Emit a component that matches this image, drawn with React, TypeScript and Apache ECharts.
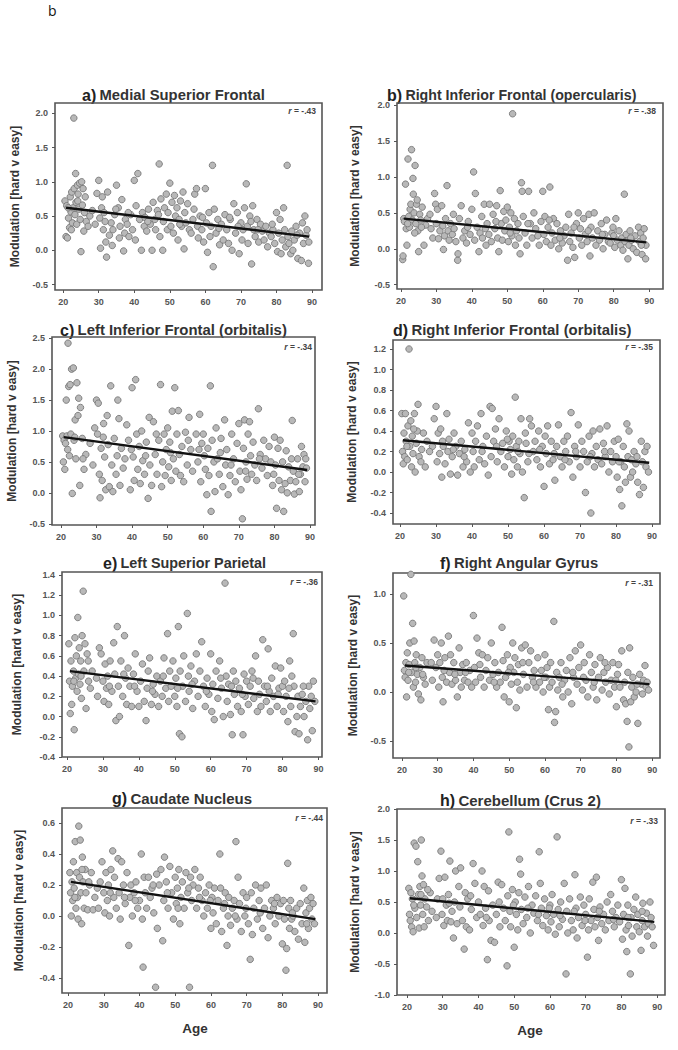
import React, { useEffect, useRef } from "react";
import * as echarts from "echarts";

// ---------- DATA ----------
const ptsA: number[][] = [
[20.5,0.72],[20.8,0.2],[21,0.65],[21.2,0.18],[21.5,0.47],[21.8,0.33],[22,0.78],[22.2,0.56],[22.4,0.85],[22.6,0.4],[22.8,0.62],[23,1.93],[23.1,0.9],[23.3,0.52],[23.5,1.12],[23.6,0.7],[23.8,0.38],[24,0.95],[24.2,0.82],[24.4,0.6],[24.6,0.98],[24.8,0.45],[25,-0.02],[25.2,1.0],[25.4,0.66],[25.6,0.9],[25.8,0.28],[26,0.55],[26.5,0.42],[27,0.35],[27.5,0.5],
[29,0.38],[29.5,0.83],[30,1.02],[30.3,0.47],[30.5,0.03],[30.8,0.62],[31,0.78],[31.3,0.3],[31.5,0.55],[32,0.12],[32.2,-0.1],[32.5,0.85],[33,0.22],[33.5,0.4],[33.8,0.07],[34,0.3],[34.5,0.52],[35,0.95],[35.5,0.62],[35.8,0.18],[36,0.35],[36.5,0.74],[37,-0.01],[37.3,0.25],[37.5,0.45],[38,0.38],[38.5,0.2],[39,0.52],[39.5,0.3],[40,1.02],[40.3,0.15],[40.5,0.65],
[41,1.12],[41.5,0.45],[42,0.0],[42.3,0.55],[42.8,0.35],[43,0.48],[43.5,0.28],[44,0.6],[44.5,0.38],[45,0.0],[45.3,0.7],[45.8,0.45],[46,0.3],[46.5,0.58],[47,1.26],[47.2,0.2],[47.5,0.75],[48,0.0],[48.2,0.42],[48.5,0.62],[49,0.82],[49.3,0.3],[49.5,0.55],[50,0.98],[50.3,0.35],[50.6,0.7],[51,0.25],[51.3,0.8],[51.6,0.5],[52,0.62],[52.3,0.15],[52.6,0.45],[53,0.72],[53.3,0.35],[53.7,0.85],[54,0.02],[54.2,0.55],[54.5,0.4],[55,0.68],[55.5,0.3],
[56,0.25],[56.5,0.45],[57,0.82],[57.5,0.9],[57.8,0.35],[58,0.18],[58.5,0.5],[59,0.3],[59.5,0.12],[60,0.9],[60.3,0.4],[60.6,-0.03],[61,0.55],[61.3,0.2],[61.6,0.35],[62,1.24],[62.2,-0.24],[62.5,0.6],[63,0.25],[63.5,0.45],[64,0.08],[64.5,0.38],[65,0.15],[65.5,0.52],[66,0.3],[66.5,0.1],[67,0.45],[67.5,0.0],[68,0.68],[68.5,0.25],[69,0.55],[69.5,-0.05],[70,0.4],[70.3,0.15],[70.6,0.3],
[71,0.62],[71.5,0.97],[71.8,0.35],[72,0.1],[72.5,0.5],[73,-0.2],[73.3,0.65],[73.6,0.3],[74,0.2],[74.5,0.45],[75,0.12],[75.5,0.38],[76,0.28],[76.5,0.15],[77,0.35],[77.5,0.05],[78,0.25],[78.5,0.2],[79,0.3],[79.5,0.1],[80,0.55],[80.3,-0.02],[80.6,0.25],[81,0.45],[81.3,-0.05],[81.6,0.15],[82,0.62],[82.3,0.3],[82.6,0.05],[83,1.24],[83.2,0.2],[83.5,0.1],[84,-0.05],[84.3,0.28],[84.6,0.0],[85,0.15],[85.5,0.35],[86,-0.12],[86.5,0.25],[87,-0.15],[87.3,0.4],[87.6,0.1],[88,0.5],[88.3,0.22],[88.6,0.3],[89,-0.19],[89.1,0.12],
[21.4,0.62],[22.3,0.3],[24.1,0.72],[26.2,0.78],[28.2,0.58],[31.8,0.42],[34.8,0.6],[38.3,0.55],[43.8,0.42],[46.8,0.52],[52.8,0.38],[56.8,0.6],[59.2,0.48],[63.8,0.32],[66.8,0.48],[69.2,0.35],[72.8,0.42],[74.8,0.3],[78.8,0.38],[85.8,0.22]
];
const ptsB: number[][] = [
[20.5,-0.15],[20.6,-0.1],[20.8,0.42],[21,0.38],[21.3,0.9],[21.5,0.28],[21.7,0.05],[22,1.25],[22.2,0.45],[22.4,0.3],[22.6,0.55],[22.8,0.62],[23,1.38],[23.2,0.4],[23.4,0.98],[23.5,0.76],[23.7,0.5],[24,1.16],[24.2,0.35],[24.4,0.62],[24.6,0.68],[24.8,0.25],[25,-0.04],[25.3,0.48],[25.6,0.4],[26,0.58],[26.5,0.05],[27,0.33],[27.5,0.42],
[28.5,0.28],[29,0.15],[29.5,0.77],[29.8,0.62],[30,0.35],[30.3,0.55],[30.6,0.14],[31,0.25],[31.5,0.6],[32,-0.01],[32.3,0.18],[32.6,0.42],[33,0.88],[33.3,0.25],[33.6,0.12],[34,0.35],[34.5,0.2],[35,0.28],[35.5,0.1],[36,-0.16],[36.1,-0.07],[36.5,0.42],[37,0.6],[37.5,0.15],[38,0.25],[38.5,0.08],[39,0.38],[39.5,0.2],
[40,0.55],[40.5,1.07],[40.8,0.12],[41,0.77],[41.5,0.3],[42,-0.04],[42.3,0.22],[42.8,0.45],[43,0.15],[43.5,0.62],[44,0.05],[44.3,0.35],[44.8,0.2],[45,0.62],[45.5,0.1],[46,0.48],[46.5,0.28],[47,0.6],[47.3,0.15],[47.6,-0.04],[48,0.81],[48.3,0.35],[48.6,0.12],[49,0.52],[49.3,0.25],[49.6,0.4],[50,0.58],[50.3,0.1],[50.6,0.3],[51,0.5],[51.3,0.18],[51.5,1.88],[52,0.42],[52.3,0.05],[52.6,0.25],[53,0.35],[53.3,0.15],[53.6,-0.07],[54,0.92],[54.2,0.8],[54.5,0.45],[55,0.22],[55.5,0.05],[56,0.8],[56.5,0.35],[57,0.15],[57.5,0.5],[58,0.28],
[59,0.05],[59.5,0.38],[60,0.8],[60.3,0.2],[60.6,0.45],[61,0.1],[61.5,0.3],[62,0.86],[62.3,0.05],[62.6,0.22],[63,0.42],[63.5,0.12],[64,0.35],[64.5,0.0],[65,0.25],[65.5,0.08],[66,0.18],[66.5,0.3],[67,-0.16],[67.3,0.48],[67.6,0.1],[68,0.22],[68.5,0.02],[69,-0.12],[69.5,0.35],[70,0.5],[70.3,0.15],[70.6,0.28],
[71,0.05],[71.5,0.42],[72,0.2],[72.5,0.1],[73,0.48],[73.3,-0.1],[73.6,0.3],[74,0.15],[74.5,0.5],[75,0.05],[75.5,0.25],[76,0.12],[76.5,0.35],[77,0.0],[77.5,0.2],[78,0.4],[78.5,0.1],[79,0.08],[79.5,0.22],[80,0.18],[80.3,0.02],[80.6,0.42],[81,0.12],[81.5,0.25],[82,0.05],[82.3,0.15],[82.6,-0.02],[83,0.76],[83.2,0.1],[83.5,0.2],[84,-0.14],[84.3,0.05],[84.6,0.25],[85,0.12],[85.5,0.0],[86,0.18],[86.5,-0.05],[87,0.3],[87.3,0.1],[87.6,0.22],[88,-0.08],[88.3,0.15],[88.6,0.28],[89,-0.14],[89.1,0.05],
[21.9,0.35],[23.9,0.22],[25.8,0.3],[28.2,0.48],[31.8,0.32],[34.8,0.48],[38.8,0.3],[43.8,0.28],[46.8,0.38],[50.8,0.22],[55.8,0.35],[58.6,0.18],[61.8,0.4],[64.8,0.15],[68.8,0.3],[72.8,0.25],[76.8,0.2],[79.8,0.3],[84.8,0.15],[87.8,0.05]
];
const ptsC: number[][] = [
[20.5,0.92],[20.7,0.5],[20.9,0.85],[21.1,0.38],[21.3,0.8],[21.5,1.5],[21.7,0.92],[22,2.42],[22.2,1.72],[22.4,0.6],[22.6,1.75],[22.8,0.95],[23,2.0],[23.2,-0.01],[23.5,2.02],[23.7,0.85],[24,1.18],[24.2,0.55],[24.5,1.78],[24.8,1.25],[25,1.53],[25.3,0.12],[25.5,1.38],[26,0.88],[26.5,0.38],[27,0.62],
[29,0.45],[29.5,1.05],[30,1.5],[30.3,0.95],[30.5,1.45],[30.8,0.3],[31,-0.08],[31.3,0.72],[31.6,0.2],[32,1.12],[32.3,0.58],[32.6,0.05],[33,1.25],[33.3,0.78],[33.6,0.1],[34,1.73],[34.3,0.45],[34.6,0.02],[35,0.88],[35.5,0.3],[36,1.5],[36.3,1.2],[36.6,0.12],[37,0.72],[37.5,0.4],[38,0.55],[38.5,1.1],[39,0.85],[39.5,0.05],
[40,1.7],[40.3,0.58],[40.6,0.2],[41,1.83],[41.3,0.95],[41.6,0.38],[42,0.75],[42.3,0.15],[42.7,1.0],[43,0.52],[43.5,0.3],[44,0.82],[44.5,-0.09],[44.8,1.22],[45,0.45],[45.5,0.12],[46,1.15],[46.5,0.62],[47,0.3],[47.5,0.85],[48,1.75],[48.3,0.1],[48.6,0.5],[49,0.95],[49.3,0.28],[49.6,0.7],[50,1.05],[50.3,0.42],[50.6,0.82],[51,0.2],[51.3,1.32],[51.6,0.55],[52,1.7],[52.3,0.35],[52.6,0.95],[53,1.33],[53.3,0.62],[53.6,0.28],[54,0.75],[54.5,0.18],[55,0.98],[55.5,0.45],[56,1.22],[56.5,0.7],[57,0.35],
[58,0.95],[58.5,0.5],[59,1.27],[59.3,0.18],[59.6,0.8],[60,0.95],[60.3,0.6],[60.6,0.38],[61,-0.03],[61.3,0.72],[61.6,0.28],[62,1.73],[62.2,-0.3],[62.5,0.85],[63,0.5],[63.3,0.02],[63.6,1.05],[64,0.55],[64.5,0.3],[65,0.88],[65.5,0.1],[66,1.18],[66.3,0.45],[66.6,0.7],[67,-0.03],[67.5,0.28],[68,0.95],[68.5,0.55],[69,0.18],[69.5,0.8],[70,1.12],[70.3,0.35],[70.6,0.05],
[71,-0.42],[71.3,0.72],[71.6,1.18],[72,0.5],[72.3,0.22],[72.6,0.95],[73,1.15],[73.3,0.6],[73.6,0.3],[74,0.82],[74.5,0.45],[75,0.2],[75.5,1.36],[76,0.62],[76.5,0.4],[77,0.85],[77.5,0.55],[78,0.28],[78.5,0.75],[79,0.5],[79.5,0.12],[80,0.9],[80.3,0.45],[80.6,-0.25],[81,0.72],[81.3,0.2],[81.6,0.85],[82,0.05],[82.3,0.5],[82.6,-0.3],[83,0.15],[83.3,0.68],[83.6,0.0],[84,0.42],[84.5,0.2],[85,1.17],[85.3,0.35],[85.6,-0.02],[86,0.18],[86.5,0.55],[87,0.02],[87.3,0.3],[87.6,0.75],[88,0.42],[88.3,0.62],[88.6,0.18],[89,0.4],
[21.9,0.7],[23.9,0.9],[26.2,0.55],[28.2,0.8],[31.9,0.9],[35.8,0.6],[39.8,0.7],[43.8,0.6],[46.8,0.95],[50.8,0.65],[55.8,0.85],[58.8,0.7],[64.8,0.65],[67.8,0.45],[71.9,0.35],[75.8,0.55],[79.8,0.3],[84.8,0.55],[86.8,0.3],[88.8,0.55]
];
const ptsD: number[][] = [
[20.5,0.57],[20.7,0.2],[20.9,0.08],[21.1,0.38],[21.3,0.15],[21.5,0.57],[21.7,0.3],[22,0.12],[22.2,0.45],[22.5,1.2],[22.7,0.25],[23,0.5],[23.2,0.05],[23.4,0.35],[23.6,0.18],[24,0.57],[24.2,0.0],[24.5,0.28],[24.8,0.4],[25,0.66],[25.3,0.15],[26,0.22],[26.5,0.38],[27,0.05],[27.5,0.3],
[29,0.25],[29.5,0.52],[30,0.64],[30.3,0.1],[30.6,0.38],[31,0.18],[31.3,0.42],[31.6,-0.05],[32,0.25],[32.5,0.08],[33,0.57],[33.3,0.2],[33.6,0.32],[34,-0.02],[34.5,0.15],[35,0.38],[35.5,0.25],[36,-0.03],[36.5,0.18],[37,0.3],[37.5,0.05],[38,0.22],[38.5,0.1],[39,0.48],[39.5,0.0],
[40,0.38],[40.3,0.2],[40.6,0.05],[41,0.3],[41.5,0.45],[42,0.12],[42.5,0.57],[43,0.25],[43.5,0.08],[44,0.35],[44.5,-0.03],[45,0.64],[45.3,0.15],[45.6,0.62],[46,0.3],[46.5,0.42],[47,0.1],[47.5,0.52],[48,0.2],[48.5,0.28],[49,0.05],[49.5,0.4],[50,0.15],[50.3,0.3],[50.6,0.22],[51,-0.02],[51.3,0.35],[51.6,0.12],[52,0.73],[52.3,0.25],[52.6,0.05],[53,0.3],[53.3,0.18],[53.6,0.52],[54,0.0],[54.5,-0.25],[54.8,0.38],[55,0.28],[55.5,0.1],[56,0.52],[56.5,0.45],[57,0.2],[57.5,0.3],
[58,0.12],[58.5,0.4],[59,0.05],[59.5,0.25],[60,-0.14],[60.3,0.35],[60.6,0.18],[61,0.45],[61.5,0.08],[62,0.3],[62.5,0.12],[63,-0.08],[63.5,0.25],[64,0.46],[64.5,0.15],[65,0.05],[65.5,0.3],[66,0.2],[66.5,0.35],[67,0.1],[67.5,0.58],[68,-0.05],[68.5,0.25],[69,0.15],[69.5,0.46],[70,0.05],[70.5,0.3],
[71,0.2],[71.5,-0.2],[72,0.1],[72.5,0.35],[73,-0.4],[73.3,0.18],[73.6,0.4],[74,0.05],[74.5,0.25],[75,0.12],[75.5,0.42],[76,0.08],[76.5,0.28],[77,0.15],[77.5,0.45],[78,0.0],[78.5,0.2],[79,0.1],[79.5,0.3],[80,0.15],[80.3,-0.05],[80.6,0.32],[81,-0.17],[81.3,0.1],[81.6,-0.33],[82,0.25],[82.3,0.05],[82.6,-0.1],[83,0.47],[83.3,0.15],[83.6,0.4],[84,-0.05],[84.3,0.12],[84.6,0.0],[85,0.2],[85.5,0.08],[86,-0.1],[86.5,-0.22],[87,0.3],[87.3,0.1],[87.6,-0.15],[88,0.2],[88.3,0.05],[88.6,0.25],[89,0.0],
[21.9,0.25],[23.8,0.42],[25.8,0.1],[28.2,0.2],[31.8,0.3],[34.8,0.22],[37.8,0.15],[42.8,0.2],[46.8,0.25],[49.8,0.32],[52.8,0.2],[55.8,0.18],[58.8,0.22],[62.8,0.18],[65.8,0.12],[68.8,0.2],[72.8,0.15],[76.8,0.2],[80.8,0.1],[85.8,0.15]
];
const ptsE: number[][] = [
[20.5,0.72],[20.7,0.35],[20.9,0.03],[21.1,0.55],[21.3,0.12],[21.5,0.3],[21.8,0.45],[22,-0.13],[22.2,0.78],[22.4,0.38],[22.6,0.6],[22.8,0.25],[23,0.98],[23.2,0.42],[23.4,0.68],[23.6,0.32],[23.8,0.55],[24,0.18],[24.2,0.8],[24.5,1.24],[24.7,0.45],[25,0.72],[25.3,0.08],[25.6,0.62],[26,0.35],[26.5,0.28],[27,0.45],
[28.5,0.2],[29,0.68],[29.5,0.62],[30,0.35],[30.3,0.15],[30.6,0.52],[31,0.28],[31.3,0.4],[31.6,0.12],[32,0.55],[32.5,0.25],[33,0.73],[33.3,0.42],[33.6,-0.04],[34,0.89],[34.3,0.3],[34.6,0.0],[35,0.55],[35.5,0.2],[36,0.8],[36.3,0.38],[36.6,0.12],[37,0.48],[37.5,0.3],[38,0.1],[38.5,0.42],[39,0.62],[39.5,0.25],
[40,0.1],[40.5,0.35],[41,0.52],[41.5,0.15],[42,-0.04],[42.3,0.28],[42.6,0.45],[43,0.58],[43.5,0.12],[44,0.32],[44.5,0.22],[45,0.4],[45.5,0.1],[46,0.35],[46.5,0.2],[47,0.58],[47.5,0.28],[48,0.82],[48.3,0.15],[48.6,0.45],[49,0.3],[49.5,0.55],[50,0.2],[50.3,0.38],[50.6,0.1],[51,0.89],[51.3,-0.17],[51.5,0.45],[52,-0.2],[52.2,0.3],[52.5,0.6],[53,0.15],[53.5,1.02],[53.8,0.4],[54,0.25],[54.5,0.5],[55,0.08],[55.5,0.35],[56,0.62],[56.5,0.2],[57,0.45],[57.5,0.74],
[58,0.3],[58.5,0.1],[59,0.38],[59.5,0.22],[60,0.62],[60.3,0.05],[60.6,0.32],[61,-0.03],[61.5,0.45],[62,0.18],[62.5,0.55],[63,0.28],[63.5,0.0],[64,1.32],[64.3,0.4],[64.6,0.15],[65,0.32],[65.5,0.02],[66,-0.18],[66.3,0.45],[66.6,0.22],[67,0.35],[67.5,0.1],[68,0.28],[68.5,0.05],[69,-0.18],[69.3,0.42],[69.6,0.2],[70,0.35],[70.5,0.12],
[71,0.3],[71.5,0.45],[72,0.18],[72.5,0.6],[73,0.05],[73.3,0.35],[73.6,0.22],[74,0.1],[74.5,0.76],[75,0.3],[75.5,0.15],[76,0.67],[76.3,0.25],[76.6,0.05],[77,0.38],[77.5,0.2],[78,0.5],[78.5,0.1],[79,0.28],[79.5,0.48],[80,0.3],[80.3,0.05],[80.6,0.35],[81,0.2],[81.5,-0.05],[82,0.55],[82.3,0.1],[82.6,0.4],[83,0.82],[83.2,0.3],[83.5,-0.15],[84,0.0],[84.3,0.2],[84.6,-0.17],[85,0.1],[85.5,0.22],[86,0.0],[86.5,0.15],[87,-0.23],[87.3,0.3],[87.6,0.08],[88,0.2],[88.3,-0.14],[88.6,0.35],[89,0.15],
[21.9,0.35],[23.9,0.4],[25.9,0.55],[28.2,0.38],[31.8,0.3],[35.8,0.42],[38.8,0.3],[43.8,0.25],[46.8,0.4],[50.8,0.28],[54.8,0.32],[58.8,0.25],[62.8,0.38],[65.8,0.3],[68.8,0.22],[71.8,0.38],[75.8,0.3],[78.8,0.22],[81.8,0.28],[85.8,0.3]
];
const ptsF: number[][] = [
[20.5,0.98],[20.7,0.22],[20.9,0.15],[21.1,0.3],[21.3,-0.05],[21.5,0.4],[21.7,0.12],[22,0.28],[22.2,0.5],[22.5,1.2],[22.7,0.2],[23,0.7],[23.2,0.05],[23.4,0.52],[23.6,0.3],[23.8,0.1],[24,0.38],[24.3,0.18],[24.6,-0.02],[25,0.25],[25.3,-0.08],[25.6,0.35],[26,0.15],[26.5,0.08],[27,0.3],
[28.5,0.12],[29,0.53],[29.5,0.25],[30,0.38],[30.3,0.05],[30.6,0.3],[31,0.5],[31.3,0.15],[31.5,-0.1],[32,0.35],[32.5,0.1],[33,0.57],[33.3,0.2],[33.6,0.38],[34,0.08],[34.5,0.3],[35,0.12],[35.5,-0.05],[36,0.45],[36.3,0.2],[36.6,0.05],[37,0.28],[37.5,0.12],[38,0.3],[38.5,0.1],[39,0.22],[39.5,0.05],
[40,0.78],[40.3,0.25],[40.6,0.1],[41,0.55],[41.5,0.4],[42,0.15],[42.5,0.38],[43,0.05],[43.5,0.22],[44,0.35],[44.5,0.12],[45,0.5],[45.5,0.18],[46,0.3],[46.5,0.05],[47,0.2],[47.5,0.1],[48,0.66],[48.3,0.32],[48.6,-0.05],[49,0.15],[49.5,0.38],[50,-0.1],[50.3,0.25],[50.6,0.08],[51,0.5],[51.3,0.2],[51.6,0.35],[52,-0.16],[52.3,0.1],[52.6,0.28],[53,0.02],[53.5,0.45],[54,0.18],[54.5,0.48],[55,0.05],[55.5,0.3],[56,0.42],[56.5,0.15],[57,0.22],[57.5,0.05],
[58,0.35],[58.5,0.1],[59,0.22],[59.5,0.0],[60,0.38],[60.3,0.15],[60.6,0.25],[61,-0.18],[61.3,0.05],[61.6,0.3],[62,0.1],[62.5,0.72],[62.7,-0.31],[63,-0.2],[63.3,0.2],[63.6,0.02],[64,0.15],[64.5,0.3],[65,-0.05],[65.5,0.12],[66,0.22],[66.5,0.0],[67,0.35],[67.5,-0.12],[68,0.15],[68.5,0.42],[69,0.08],[69.5,0.25],[70,0.48],[70.5,0.02],
[71,0.3],[71.5,0.12],[72,-0.05],[72.5,0.38],[73,0.2],[73.5,0.05],[74,0.28],[74.5,-0.08],[75,0.15],[75.5,0.35],[76,0.02],[76.5,0.2],[77,0.1],[77.5,0.25],[78,-0.02],[78.5,0.12],[79,0.3],[79.5,0.05],[80,-0.15],[80.3,0.18],[80.6,0.28],[81,0.05],[81.5,0.42],[82,-0.08],[82.3,0.1],[82.6,-0.12],[83,-0.3],[83.2,0.2],[83.5,-0.56],[83.7,0.45],[84,-0.1],[84.3,0.05],[84.6,0.15],[85,-0.05],[85.5,0.0],[86,-0.32],[86.5,0.18],[87,0.08],[87.3,-0.02],[87.6,0.12],[88,0.27],[88.3,0.05],[88.6,0.1],[89,0.02],
[21.9,0.2],[23.9,0.25],[25.8,0.18],[28.2,0.3],[31.8,0.22],[34.8,0.18],[37.8,0.2],[41.8,0.28],[45.8,0.1],[49.8,0.2],[53.8,0.3],[56.8,0.1],[59.8,0.15],[64.8,0.08],[67.8,0.2],[70.8,0.15],[73.8,0.1],[76.8,0.3],[79.8,0.12],[85.8,0.08]
];
const ptsG: number[][] = [
[20.5,0.28],[20.7,0.15],[20.9,0.0],[21.1,0.22],[21.3,0.1],[21.5,0.35],[21.7,0.18],[22,0.48],[22.2,0.05],[22.4,0.28],[22.6,0.12],[22.8,-0.02],[23,0.58],[23.2,0.25],[23.4,0.49],[23.6,0.15],[23.8,-0.05],[24,0.38],[24.2,0.22],[24.5,0.05],[24.8,0.3],[25,0.15],[25.5,0.04],[26,0.2],[26.5,0.28],[27,0.04],[27.5,0.12],
[28.5,0.05],[29,0.22],[29.5,0.35],[30,0.15],[30.3,0.02],[30.6,0.28],[31,0.1],[31.3,0.2],[31.6,0.0],[32,0.3],[32.5,0.42],[32.8,0.12],[33,0.25],[33.5,0.05],[34,0.37],[34.3,0.15],[34.6,-0.02],[35,0.35],[35.5,0.2],[36,0.08],[36.5,0.28],[37,-0.19],[37.3,0.12],[37.6,0.2],[38,0.0],[38.5,0.15],[39,0.22],[39.5,0.05],
[40,0.1],[40.5,0.4],[40.8,-0.02],[41,-0.33],[41.3,0.25],[41.6,0.15],[42,0.05],[42.5,0.25],[43,0.12],[43.5,0.18],[44,0.02],[44.5,-0.46],[44.8,0.27],[45,-0.08],[45.5,0.2],[46,0.3],[46.5,-0.16],[46.8,0.1],[47,0.38],[47.5,0.22],[48,0.05],[48.5,0.32],[49,0.15],[49.5,-0.02],[50,0.25],[50.3,0.08],[50.6,0.18],[51,0.3],[51.3,-0.05],[51.6,0.12],[52,0.22],[52.5,0.05],[53,0.28],[53.5,0.15],[54,-0.46],[54.3,0.25],[54.6,0.1],[55,0.2],[55.5,0.3],[56,0.05],[56.5,0.18],[57,0.25],[57.5,0.1],
[58,0.0],[58.5,0.15],[59,0.05],[59.5,0.2],[60,-0.08],[60.3,0.12],[60.6,0.02],[61,0.18],[61.5,-0.05],[62,0.1],[62.5,0.4],[62.7,0.18],[63,-0.1],[63.5,0.05],[64,0.15],[64.5,-0.19],[64.8,0.0],[65,0.12],[65.5,-0.06],[66,0.05],[66.5,0.1],[67,0.48],[67.3,-0.02],[67.6,0.25],[68,0.08],[68.5,-0.1],[69,0.15],[69.5,0.0],[70,0.12],[70.5,-0.05],
[71,-0.28],[71.3,0.15],[71.6,-0.12],[72,0.05],[72.5,0.2],[73,-0.02],[73.5,0.1],[74,0.18],[74.5,-0.08],[75,0.05],[75.5,0.2],[76,-0.14],[76.5,0.0],[77,0.1],[77.5,0.05],[78,-0.05],[78.5,0.12],[79,0.0],[79.5,0.08],[80,-0.18],[80.3,0.1],[80.6,-0.02],[81,-0.35],[81.2,-0.21],[81.5,0.34],[81.8,0.05],[82,-0.08],[82.3,0.1],[82.6,-0.02],[83,0.0],[83.5,-0.1],[84,0.05],[84.5,-0.15],[85,0.08],[85.5,-0.05],[86,0.18],[86.3,-0.17],[86.6,0.02],[87,0.1],[87.3,-0.08],[87.6,0.05],[88,0.12],[88.3,-0.02],[88.6,0.08],[89,-0.05],
[21.9,0.12],[23.9,0.3],[25.8,0.22],[28.2,0.18],[31.8,0.15],[35.8,0.12],[38.8,0.1],[43.8,0.2],[47.8,0.15],[50.8,0.05],[53.8,0.18],[56.8,0.12],[59.8,0.1],[63.8,0.08],[66.8,0.0],[69.8,0.05],[73.8,0.02],[77.8,0.08],[82.8,0.02],[86.8,-0.05]
];
const ptsH: number[][] = [
[20.5,0.72],[20.7,0.3],[20.9,0.2],[21.1,0.65],[21.3,0.1],[21.5,0.55],[21.7,0.02],[22,1.45],[22.2,0.4],[22.5,1.4],[22.7,0.25],[23,1.15],[23.2,0.62],[23.4,0.08],[23.6,0.75],[23.8,0.45],[24,1.5],[24.2,0.92],[24.4,0.3],[24.6,0.78],[24.8,0.1],[25,0.55],[25.5,0.42],[26,0.2],[26.5,0.65],[27,0.35],
[28.5,0.55],[29,0.88],[29.5,1.32],[29.8,0.3],[30,0.55],[30.3,0.12],[30.6,0.9],[31,0.45],[31.3,0.2],[31.6,0.62],[32,1.16],[32.3,0.18],[32.6,0.35],[33,-0.08],[33.3,0.5],[33.6,1.0],[34,0.15],[34.5,0.75],[35,1.05],[35.5,0.2],[36,-0.26],[36.3,0.65],[36.6,0.1],[37,0.55],[37.5,0.05],[38,0.38],[38.5,1.12],[39,0.8],[39.5,0.25],
[40,0.5],[40.5,0.3],[41,1.0],[41.3,0.12],[41.6,0.75],[42,0.4],[42.5,-0.43],[42.8,0.68],[43,0.2],[43.5,-0.12],[44,0.45],[44.5,-0.15],[45,0.3],[45.5,0.82],[46,0.1],[46.5,0.78],[47,0.4],[47.5,0.2],[48,-0.53],[48.2,0.6],[48.5,1.63],[48.8,0.35],[49,0.1],[49.5,0.7],[50,-0.23],[50.3,0.5],[50.6,0.3],[51,0.05],[51.3,0.65],[51.5,1.19],[51.8,0.95],[52,0.38],[52.5,0.15],[53,0.58],[53.5,0.25],[54,0.75],[54.5,0.0],[55,0.45],[55.5,0.32],[56,0.6],[56.5,0.2],[57,1.31],[57.3,0.8],[57.6,0.4],
[58,0.12],[58.5,0.55],[59,0.28],[59.5,0.05],[60,0.45],[60.3,0.18],[60.6,0.62],[61,0.3],[61.5,-0.02],[62,1.55],[62.3,0.38],[62.6,0.1],[63,0.5],[63.5,0.22],[64,0.8],[64.5,-0.66],[64.7,0.35],[65,0.0],[65.5,0.55],[66,0.2],[66.5,0.05],[67,0.94],[67.3,0.4],[67.6,-0.08],[68,0.25],[68.5,0.58],[69,0.12],[69.5,0.45],[70,0.3],[70.5,-0.39],[70.8,0.05],
[71,0.55],[71.5,0.2],[72,0.82],[72.3,0.38],[72.6,0.1],[73,0.9],[73.3,0.25],[73.6,-0.12],[74,0.42],[74.5,0.15],[75,0.3],[75.5,0.05],[76,0.5],[76.5,0.2],[77,0.62],[77.5,0.35],[78,0.1],[78.5,0.25],[79,0.45],[79.5,0.18],[80,0.86],[80.3,-0.1],[80.6,0.3],[81,0.72],[81.3,0.05],[81.5,-0.3],[81.8,0.45],[82,0.12],[82.5,-0.66],[82.7,0.25],[83,-0.05],[83.5,0.38],[84,0.58],[84.3,0.1],[84.6,0.3],[85,0.02],[85.5,-0.28],[85.8,0.2],[86,0.48],[86.5,0.1],[87,0.32],[87.3,-0.05],[87.6,0.15],[88,0.5],[88.3,0.25],[88.6,0.1],[89,-0.2],
[21.9,0.45],[23.9,0.62],[25.8,0.7],[28.2,0.25],[31.8,0.48],[34.8,0.42],[37.8,0.6],[42.2,0.25],[45.8,0.5],[49.8,0.45],[53.8,0.4],[56.8,0.3],[59.8,0.4],[62.8,0.28],[66.8,0.35],[69.8,0.2],[73.8,0.35],[77.8,0.22],[81.8,0.25],[85.8,0.35]
];

// regression line end points
const fitA = [[20.8, 0.62], [89.2, 0.2]];
const fitB = [[20.8, 0.42], [89.2, 0.09]];
const fitC = [[20.8, 0.9], [89.2, 0.37]];
const fitD = [[20.8, 0.31], [89.2, 0.09]];
const fitE = [[20.8, 0.45], [89.2, 0.15]];
const fitF = [[20.8, 0.27], [89.2, 0.08]];
const fitG = [[20.8, 0.22], [89.2, -0.02]];
const fitH = [[20.8, 0.56], [89.2, 0.18]];

const panelLetters = ["a)", "b)", "c)", "d)", "e)", "f)", "g)", "h)"];
const panelNames = [
  "Medial Superior Frontal",
  "Right Inferior Frontal (opercularis)",
  "Left Inferior Frontal (orbitalis)",
  "Right Inferior Frontal (orbitalis)",
  "Left Superior Parietal",
  "Right Angular Gyrus",
  "Caudate Nucleus",
  "Cerebellum (Crus 2)",
];
const rValues = ["-.43", "-.38", "-.34", "-.35", "-.36", "-.31", "-.44", "-.33"];
const xTicks = [20, 30, 40, 50, 60, 70, 80, 90];
const yTicksA = [-0.5, 0, 0.5, 1, 1.5, 2];
const yTicksB = [-0.5, 0, 0.5, 1, 1.5, 2];
const yTicksC = [-0.5, 0, 0.5, 1, 1.5, 2, 2.5];
const yTicksD = [-0.4, -0.2, 0, 0.2, 0.4, 0.6, 0.8, 1.0, 1.2];
const yTicksE = [-0.4, -0.2, 0, 0.2, 0.4, 0.6, 0.8, 1.0, 1.2, 1.4];
const yTicksF = [-0.5, 0, 0.5, 1.0];
const yTicksG = [-0.4, -0.2, 0, 0.2, 0.4, 0.6];
const yTicksH = [-1, -0.5, 0, 0.5, 1, 1.5, 2];
const yAxisTitle = "Modulation [hard v easy]";
const xAxisTitle = "Age";
const figureLabel = "b";

const allPts = [ptsA, ptsB, ptsC, ptsD, ptsE, ptsF, ptsG, ptsH];
const allFits = [fitA, fitB, fitC, fitD, fitE, fitF, fitG, fitH];
const allYTicks = [yTicksA, yTicksB, yTicksC, yTicksD, yTicksE, yTicksF, yTicksG, yTicksH];

// ---------- LAYOUT (pixels / axis extents) ----------
const layout = [
  { L: 55, T: 103, R: 322, B: 290, xMin: 17.7, xMax: 92.8, yMin: -0.58, yMax: 2.15, tx: 82, ty: 95, rx: 316, ry: 111, nx: 15 },
  { L: 397, T: 103, R: 663, B: 289, xMin: 18.9, xMax: 93.9, yMin: -0.56, yMax: 2.03, tx: 387, ty: 95, rx: 656, ry: 111, nx: 355 },
  { L: 52, T: 337, R: 315, B: 525, xMin: 17.5, xMax: 91.4, yMin: -0.52, yMax: 2.52, tx: 60, ty: 330, rx: 312, ry: 347, nx: 12 },
  { L: 393, T: 340, R: 660, B: 524, xMin: 18.05, xMax: 92.2, yMin: -0.507, yMax: 1.288, tx: 393, ty: 330, rx: 653, ry: 347, nx: 352 },
  { L: 62, T: 572, R: 322, B: 757, xMin: 18.6, xMax: 91.0, yMin: -0.4, yMax: 1.43, tx: 103, ty: 563, rx: 318, ry: 582, nx: 17 },
  { L: 393, T: 573, R: 660, B: 758, xMin: 17.5, xMax: 92.2, yMin: -0.673, yMax: 1.214, tx: 440, ty: 563, rx: 653, ry: 583, nx: 353 },
  { L: 62, T: 808, R: 327, B: 993, xMin: 18.3, xMax: 92.5, yMin: -0.497, yMax: 0.697, tx: 112, ty: 798, rx: 323, ry: 818, nx: 19 },
  { L: 397, T: 809, R: 665, B: 995, xMin: 17.2, xMax: 92.2, yMin: -1.0, yMax: 2.0, tx: 440, ty: 800, rx: 658, ry: 821, nx: 355 },
];
const titleSizes = [[16, 14.8], [16, 14.2], [16, 14.9], [16, 14.9], [16, 14.4], [16, 14.8], [16, 15], [16, 15]];

const FONT = "'Liberation Sans', Arial, Helvetica, sans-serif";

function buildOption() {
  const grid: any[] = [];
  const xAxis: any[] = [];
  const yAxis: any[] = [];
  const series: any[] = [];
  const graphic: any[] = [];

  layout.forEach((p, i) => {
    grid.push({ left: p.L, top: p.T, width: p.R - p.L, height: p.B - p.T, show: false });
    xAxis.push({
      type: "value", gridIndex: i, min: p.xMin, max: p.xMax,
      axisLine: { show: false, onZero: false },
      splitLine: { show: false },
      axisTick: { show: true, length: 3, inside: false, customValues: xTicks, lineStyle: { color: "#555", width: 1 } },
      axisLabel: { customValues: xTicks, margin: 7, color: "#555", fontSize: 9, fontWeight: "bold", fontFamily: FONT, formatter: (v: number) => String(Math.round(v)) },
    });
    yAxis.push({
      type: "value", gridIndex: i, min: p.yMin, max: p.yMax,
      axisLine: { show: false, onZero: false },
      splitLine: { show: false },
      axisTick: { show: true, length: 3, inside: false, customValues: allYTicks[i], lineStyle: { color: "#555", width: 1 } },
      axisLabel: { customValues: allYTicks[i], margin: 7, color: "#555", fontSize: 9, fontWeight: "bold", fontFamily: FONT, formatter: (v: number) => v.toFixed(1) },
    });
    series.push({
      type: "scatter", xAxisIndex: i, yAxisIndex: i, data: allPts[i], clip: false,
      symbol: "circle", symbolSize: 6.5,
      itemStyle: { color: "#b8b8b8", borderColor: "#787878", borderWidth: 0.9, opacity: 1 },
      z: 2,
    });
    series.push({
      type: "line", xAxisIndex: i, yAxisIndex: i, data: allFits[i], symbol: "none",
      lineStyle: { color: "#111", width: 2.4 }, z: 3, silent: true,
    });
    graphic.push({
      type: "rect", silent: true, z: 1,
      shape: { x: p.L, y: p.T, width: p.R - p.L, height: p.B - p.T },
      style: { fill: "none", stroke: "#555", lineWidth: 1.6 },
    });
    graphic.push({
      type: "text", x: p.tx, y: p.ty,
      style: {
        text: `{l|${panelLetters[i]}} {t|${panelNames[i]}}`,
        align: "left", verticalAlign: "middle",
        rich: {
          l: { fontSize: titleSizes[i][0], fontWeight: "bold", fill: "#222", fontFamily: FONT },
          t: { fontSize: titleSizes[i][1], fontWeight: "bold", fill: "#333", fontFamily: FONT },
        },
      },
    });
    graphic.push({
      type: "text", x: p.rx, y: p.ry,
      style: {
        text: `{i|r} = ${rValues[i]}`,
        align: "right", verticalAlign: "middle",
        fontSize: 8.5, fontWeight: "bold", fill: "#444", fontFamily: FONT,
        rich: { i: { fontStyle: "italic", fontSize: 8.5, fontWeight: "bold", fill: "#444", fontFamily: FONT } },
      },
    });
    graphic.push({
      type: "text", x: p.nx, y: (p.T + p.B) / 2, rotation: Math.PI / 2,
      style: {
        text: yAxisTitle, align: "center", verticalAlign: "middle",
        fontSize: 12, fontWeight: "bold", fill: "#333", fontFamily: FONT,
      },
    });
  });

  graphic.push({
    type: "text", x: 195, y: 1028,
    style: { text: xAxisTitle, align: "center", verticalAlign: "middle", fontSize: 13.5, fontWeight: "bold", fill: "#333", fontFamily: FONT },
  });
  graphic.push({
    type: "text", x: 530, y: 1030,
    style: { text: xAxisTitle, align: "center", verticalAlign: "middle", fontSize: 13.5, fontWeight: "bold", fill: "#333", fontFamily: FONT },
  });
  graphic.push({
    type: "text", x: 48, y: 10,
    style: { text: figureLabel, align: "left", verticalAlign: "middle", fontSize: 14, fill: "#111", fontFamily: "'Open Sans', 'Noto Sans', sans-serif" },
  });

  return {
    animation: false,
    backgroundColor: "#ffffff",
    grid, xAxis, yAxis, series, graphic,
  };
}

export default function App() {
  const ref = useRef<HTMLDivElement>(null);
  useEffect(() => {
    if (!ref.current) return;
    const chart = echarts.init(ref.current, undefined, { renderer: "svg" });
    chart.setOption(buildOption() as any);
    return () => chart.dispose();
  }, []);
  return (
    <div
      ref={ref}
      style={{ position: "absolute", left: 0, top: 0, width: 678, height: 1050, background: "#fff" }}
    />
  );
}
